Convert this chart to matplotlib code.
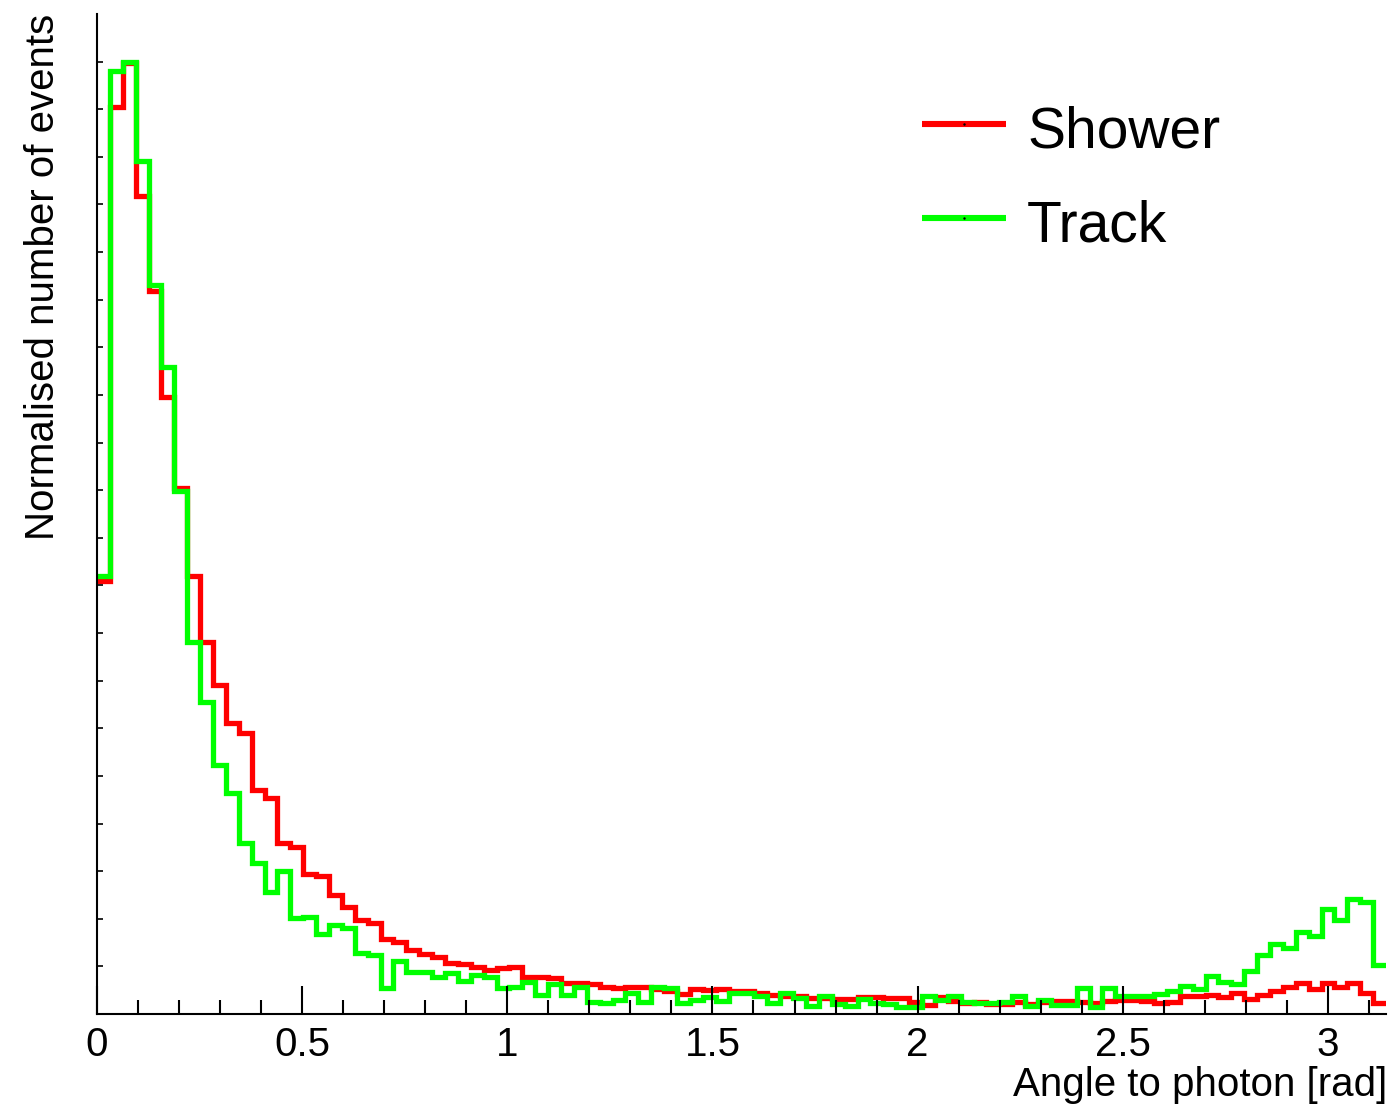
"""
Angle-to-photon distributions for shower and track events (ROOT-style step histogram).
Bin contents read off the reference figure; arbitrary (normalised) units.
"""
import numpy as np
import matplotlib
matplotlib.use("Agg")
import matplotlib.pyplot as plt
from matplotlib.ticker import MultipleLocator

plt.rcParams["font.family"] = ["Liberation Sans", "DejaVu Sans"]

W, H = 1397, 1105
N_BINS = 100
X_MAX = np.pi

# bin contents, 100 bins over [0, pi]
shower = [
    433, 907, 951, 818, 723, 617, 526, 438, 372, 329,
    291, 281, 224, 216, 171, 167, 140, 138, 119, 107,
    94, 91, 75, 72, 64, 60, 57, 51, 50, 47,
    44, 46, 47, 37, 37, 36, 31, 31, 30, 27,
    26, 27, 27, 25, 23, 20, 25, 24, 25, 23,
    23, 21, 19, 18, 18, 16, 16, 15, 15, 17,
    17, 16, 16, 12, 9, 17, 13, 11, 12, 10,
    10, 12, 10, 12, 13, 13, 12, 11, 13, 14,
    14, 13, 11, 12, 18, 18, 19, 17, 21, 15,
    19, 23, 27, 31, 25, 31, 27, 31, 21, 11,
]
track = [
    438, 943, 952, 853, 729, 647, 523, 372, 312, 249,
    221, 171, 151, 122, 143, 96, 97, 80, 89, 86,
    61, 59, 26, 53, 42, 42, 37, 41, 33, 39,
    37, 26, 27, 32, 19, 30, 19, 27, 12, 11,
    14, 21, 12, 27, 26, 11, 14, 17, 13, 21,
    21, 18, 11, 21, 16, 8, 18, 10, 8, 15,
    11, 10, 7, 7, 18, 14, 18, 12, 11, 11,
    12, 18, 8, 14, 9, 9, 26, 7, 26, 18,
    18, 18, 20, 23, 28, 25, 38, 32, 30, 43,
    59, 70, 66, 82, 78, 105, 94, 115, 112, 49,
]
series_names = ["Shower", "Track"]
series_colors = ["#ff0000", "#00ff00"]

x_ticks = [0, 0.5, 1, 1.5, 2, 2.5, 3]
x_tick_labels = ["0", "0.5", "1", "1.5", "2", "2.5", "3"]

fig = plt.figure(figsize=(W / 100, H / 100), dpi=100)
ax = fig.add_axes([97 / W, (H - 1014) / H, 1289 / W, 1000 / H])

edges = np.linspace(0, X_MAX, N_BINS + 1)
for vals, col in zip([shower, track], series_colors):
    ax.stairs(vals, edges, color=col, linewidth=3.8, baseline=None,
              joinstyle="miter")

ymax = 1.05 * max(max(shower), max(track))
ax.set_xlim(0, X_MAX)
ax.set_ylim(0, ymax)

for side in ["top", "right"]:
    ax.spines[side].set_visible(False)
for side in ["left", "bottom"]:
    ax.spines[side].set_linewidth(1.5)

ax.set_xticks(x_ticks)
ax.set_xticklabels(x_tick_labels)
ax.xaxis.set_minor_locator(MultipleLocator(0.1))
ax.tick_params(axis="x", which="major", direction="in", length=20, width=1.5,
               labelsize=29, pad=9)
ax.tick_params(axis="x", which="minor", direction="in", length=10, width=1.5)

ax.set_yticks(np.arange(0, ymax, 47.6))
ax.set_yticklabels([])
ax.tick_params(axis="y", which="major", direction="in", length=4, width=1.2)

# axis titles, ROOT-style (aligned to the axis ends)
fig.text(1387 / W, (H - 1096) / H, "Angle to photon [rad]", fontsize=29,
         ha="right", va="baseline")
fig.text(54 / W, (H - 14) / H, "Normalised number of events", fontsize=29,
         rotation=90, rotation_mode="anchor", ha="right", va="baseline")

# legend
leg_y = [0.890, 0.796]
txt_y = [0.867, 0.773]
for name, col, ly, ty in zip(series_names, series_colors, leg_y, txt_y):
    ax.plot([0.640, 0.705], [ly, ly], color=col, linewidth=4.4,
            transform=ax.transAxes, clip_on=False, solid_capstyle="butt")
    ax.plot([0.6726], [ly], marker=".", markersize=1.5, color="black",
            transform=ax.transAxes, clip_on=False)
    ax.text(0.7215, ty, name, fontsize=41, ha="left", va="baseline",
            transform=ax.transAxes)

fig.savefig("out.png", dpi=100)
